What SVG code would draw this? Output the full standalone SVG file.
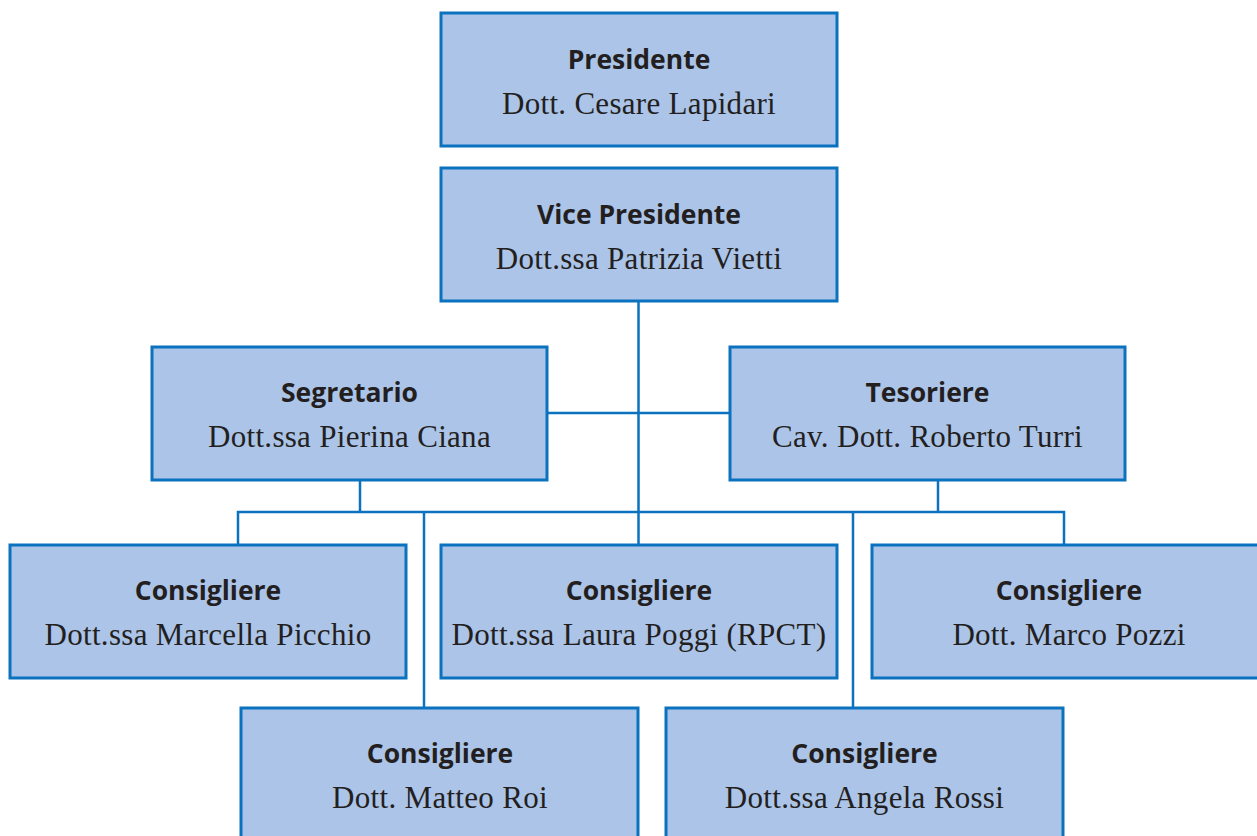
<svg xmlns="http://www.w3.org/2000/svg" width="1257" height="836" viewBox="0 0 1257 836">
<style>
.box{fill:#abc4e8;stroke:#0a72bf;stroke-width:3}
.ln{stroke:#0a72bf;stroke-width:2.5;fill:none}
.t{font-family:"Open Sans","Liberation Sans",sans-serif;font-weight:bold;font-size:26.5px;fill:#231f20;text-anchor:middle}
.n{font-family:"Liberation Serif","Times New Roman",serif;font-size:31px;fill:#231f20;text-anchor:middle;letter-spacing:0.3px}
</style>
<rect width="1257" height="836" fill="#ffffff"/>
<g id="connectors">
<path class="ln" d="M638.5 301V545"/>
<path class="ln" d="M547 413H730"/>
<path class="ln" d="M360 480V512"/>
<path class="ln" d="M938 480V512"/>
<path class="ln" d="M238 545V512H1064V545"/>
<path class="ln" d="M424 512V708"/>
<path class="ln" d="M853 512V708"/>
</g>
<g id="presidente">
<rect class="box" x="441" y="13" width="396" height="133"/>
<text class="t" x="639" y="69">Presidente</text>
<text class="n" x="639" y="114">Dott. Cesare Lapidari</text>
</g>
<g id="vicepresidente">
<rect class="box" x="441" y="168" width="396" height="133"/>
<text class="t" x="639" y="224">Vice Presidente</text>
<text class="n" x="639" y="269">Dott.ssa Patrizia Vietti</text>
</g>
<g id="segretario">
<rect class="box" x="152" y="347" width="395" height="133"/>
<text class="t" x="349.5" y="402">Segretario</text>
<text class="n" x="349.5" y="447">Dott.ssa Pierina Ciana</text>
</g>
<g id="tesoriere">
<rect class="box" x="730" y="347" width="395" height="133"/>
<text class="t" x="927.5" y="402">Tesoriere</text>
<text class="n" x="927.5" y="447">Cav. Dott. Roberto Turri</text>
</g>
<g id="consigliere-picchio">
<rect class="box" x="10" y="545" width="396" height="133"/>
<text class="t" x="208" y="600">Consigliere</text>
<text class="n" x="208" y="645">Dott.ssa Marcella Picchio</text>
</g>
<g id="consigliere-poggi">
<rect class="box" x="441" y="545" width="396" height="133"/>
<text class="t" x="639" y="600">Consigliere</text>
<text class="n" x="639" y="645">Dott.ssa Laura Poggi (RPCT)</text>
</g>
<g id="consigliere-pozzi">
<rect class="box" x="872" y="545" width="396" height="133"/>
<text class="t" x="1069" y="600">Consigliere</text>
<text class="n" x="1069" y="645">Dott. Marco Pozzi</text>
</g>
<g id="consigliere-roi">
<rect class="box" x="241" y="708" width="397" height="140"/>
<text class="t" x="440" y="763">Consigliere</text>
<text class="n" x="440" y="808">Dott. Matteo Roi</text>
</g>
<g id="consigliere-rossi">
<rect class="box" x="666" y="708" width="397" height="140"/>
<text class="t" x="864.5" y="763">Consigliere</text>
<text class="n" x="864.5" y="808">Dott.ssa Angela Rossi</text>
</g>
</svg>
